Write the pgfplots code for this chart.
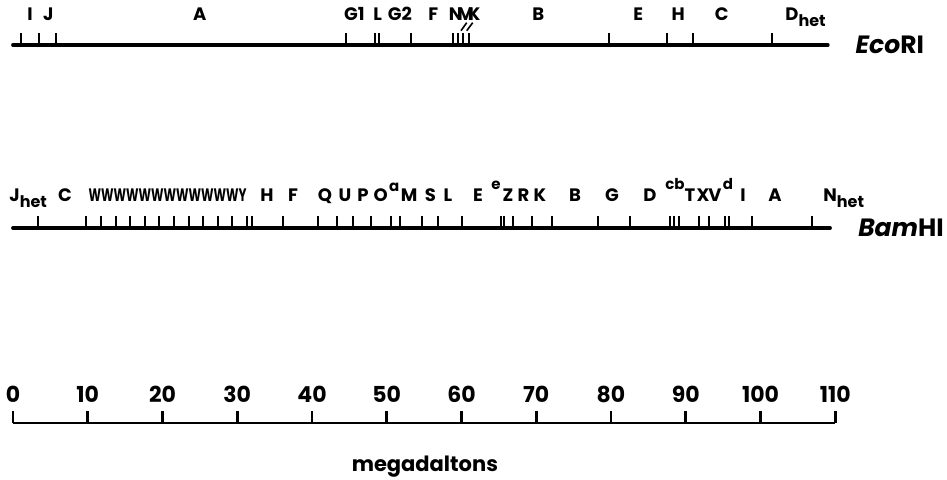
\documentclass[border=0pt]{standalone}
\usepackage{fontspec}
\setmainfont{Poppins}
\usepackage{graphicx}
\usepackage{pgfplots}
\pgfplotsset{compat=1.18}
\tikzset{
  lbl/.style={font=\fontsize{9}{10}\selectfont\bfseries, inner sep=0pt, anchor=base},
  sup/.style={font=\fontsize{7.5}{8}\selectfont\bfseries, inner sep=0pt, anchor=base},
  num/.style={font=\fontsize{11}{12}\selectfont\bfseries, inner sep=0pt, anchor=base},
}
\newcommand{\het}{\raisebox{-0.5ex}{\fontsize{8}{8}\selectfont het}}
\begin{document}
\begin{tikzpicture}
\begin{axis}[
  scale only axis, width=473.5pt, height=240pt,
  xmin=-1.739, xmax=124.95, ymin=0, ymax=480,
  hide axis, clip=false,
]
\addplot[draw=none] coordinates {(-1.739,0) (124.95,480)};
% main lines
\addplot[black, line width=1.9pt, line cap=round] coordinates {(0,435) (109,435)};
\addplot[black, line width=1.9pt, line cap=round] coordinates {(0,252) (109.3,252)};
\addplot[black, line width=1.4pt] coordinates {(0,57) (110,57)};
% EcoRI ticks
\addplot[black, line width=1pt, quiver={u=0, v=12}] coordinates {
(1.03,435) (3.52,435) (5.71,435) (44.5,435) (48.4,435) (48.98,435) (53.24,435)
(58.9,435) (59.49,435) (60.24,435) (61.04,435) (79.73,435) (87.53,435) (91.0,435) (101.58,435)};
% BamHI ticks
\addplot[black, line width=1pt, quiver={u=0, v=12}] coordinates {
(3.30,252) (9.77,252) (11.77,252) (13.74,252) (15.65,252) (17.66,252) (19.57,252)
(21.54,252) (23.50,252) (25.46,252) (27.38,252) (29.34,252) (31.24,252) (31.91,252)
(36.16,252) (40.84,252) (43.30,252) (45.44,252) (47.89,252) (50.57,252) (51.77,252)
(54.68,252) (56.90,252) (60.03,252) (65.24,252) (65.69,252) (66.93,252) (69.39,252)
(72.07,252) (78.30,252) (82.54,252) (87.89,252) (88.47,252) (89.06,252) (91.77,252)
(93.07,252) (95.25,252) (95.82,252) (98.90,252) (106.85,252)};
% scale ticks
\addplot[black, line width=1.4pt, quiver={u=0, v=12}] coordinates {
(0,57) (10,57) (20,57) (30,57) (40,57) (50,57) (60,57) (70,57) (80,57) (90,57) (100,57) (110,57)};
% slashes
\addplot[black, line width=0.8pt] coordinates {(59.93,449.3) (60.70,457.3)};
\addplot[black, line width=0.8pt] coordinates {(60.70,449.3) (61.50,457.3)};
% EcoRI labels
\node[lbl] at (axis cs:2.27,459) {I};
\node[lbl] at (axis cs:4.72,459) {J};
\node[lbl] at (axis cs:25.0,459) {A};
\node[lbl] at (axis cs:45.66,459) {G1};
\node[lbl] at (axis cs:48.79,459) {L};
\node[lbl] at (axis cs:51.77,459) {G2};
\node[lbl] at (axis cs:56.23,459) {F};
\node[lbl] at (axis cs:59.22,459) {N};
\node[lbl] at (axis cs:60.56,459) {M};
\node[lbl] at (axis cs:61.68,459) {K};
\node[lbl] at (axis cs:70.27,459) {B};
\node[lbl] at (axis cs:83.65,459) {E};
\node[lbl] at (axis cs:89.0,459) {H};
\node[lbl] at (axis cs:94.8,459) {C};
\node[lbl, anchor=base west] at (axis cs:103.28,459) {D\het};
\node[font=\fontsize{12.5}{14}\selectfont\bfseries, inner sep=0pt, anchor=base] at (axis cs:117.3,426) {\textit{Eco}RI};
% BamHI labels
\node[lbl, anchor=base west] at (axis cs:-0.54,278) {J\het};
\node[lbl] at (axis cs:6.96,278) {C};
\node[lbl] at (axis cs:20.67,278) {\resizebox{79pt}{\height}{WWWWWWWWWWWWY}};
\node[lbl] at (axis cs:33.98,278) {H};
\node[lbl] at (axis cs:37.46,278) {F};
\node[lbl] at (axis cs:41.74,278) {Q};
\node[lbl] at (axis cs:44.41,278) {U};
\node[lbl] at (axis cs:46.82,278) {P};
\node[lbl] at (axis cs:49.2,278) {O};
\node[sup] at (axis cs:51.0,288) {a};
\node[lbl] at (axis cs:53.0,278) {M};
\node[lbl] at (axis cs:55.85,278) {S};
\node[lbl] at (axis cs:58.19,278) {L};
\node[lbl] at (axis cs:62.21,278) {E};
\node[sup] at (axis cs:64.6,290) {e};
\node[lbl] at (axis cs:66.22,278) {Z};
\node[lbl] at (axis cs:68.3,278) {R};
\node[lbl] at (axis cs:70.5,278) {K};
\node[lbl] at (axis cs:75.18,278) {B};
\node[lbl] at (axis cs:80.13,278) {G};
\node[lbl] at (axis cs:85.22,278) {D};
\node[sup] at (axis cs:88.56,290) {cb};
\node[lbl] at (axis cs:90.57,278) {T};
\node[lbl] at (axis cs:92.31,278) {X};
\node[lbl] at (axis cs:93.91,278) {V};
\node[sup] at (axis cs:95.65,290) {d};
\node[lbl] at (axis cs:97.66,278) {I};
\node[lbl] at (axis cs:101.94,278) {A};
\node[lbl, anchor=base west] at (axis cs:108.36,278) {N\het};
\node[font=\fontsize{12.5}{14}\selectfont\bfseries, inner sep=0pt, anchor=base] at (axis cs:118.8,243) {\textit{Bam}HI};
% scale labels
\node[num] at (axis cs:0,77) {0};
\node[num] at (axis cs:10,77) {10};
\node[num] at (axis cs:20,77) {20};
\node[num] at (axis cs:30,77) {30};
\node[num] at (axis cs:40,77) {40};
\node[num] at (axis cs:50,77) {50};
\node[num] at (axis cs:60,77) {60};
\node[num] at (axis cs:70,77) {70};
\node[num] at (axis cs:80,77) {80};
\node[num] at (axis cs:90,77) {90};
\node[num] at (axis cs:100,77) {100};
\node[num] at (axis cs:110,77) {110};
\node[font=\fontsize{10.5}{12}\selectfont\bfseries, inner sep=0pt, anchor=base] at (axis cs:55.1,8) {megadaltons};
\end{axis}
\end{tikzpicture}
\end{document}
